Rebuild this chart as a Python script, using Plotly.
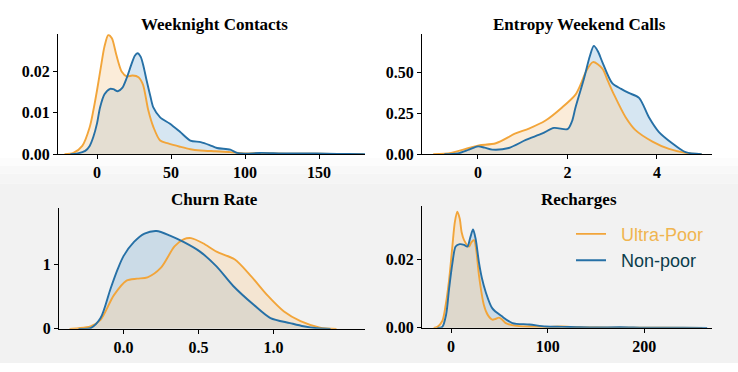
import plotly.graph_objects as go

# ---------------- data ----------------
titles = ["Weeknight Contacts", "Entropy Weekend Calls", "Churn Rate", "Recharges"]
series_names = ["Ultra-Poor", "Non-poor"]

# Weeknight Contacts
wc_poor_x = [-22, -16, -10, -5, -2.5, 0, 3, 5, 7.6, 10, 13, 16.7, 20, 24, 28, 31, 34.6, 38, 42.6, 48, 56, 63, 70, 80, 90, 100, 110, 120, 135, 150, 165, 180]
wc_poor_y = [0, 0.0003, 0.002, 0.0065, 0.0106, 0.0155, 0.022, 0.026, 0.0288, 0.028, 0.024, 0.0199, 0.0188, 0.019, 0.0186, 0.0168, 0.0106, 0.0066, 0.0033, 0.0026, 0.0018, 0.0012, 0.0009, 0.0007, 0.0005, 0.0002, 0.0003, 0.0002, 0.0001, 0.0001, 0.00005, 0]
wc_non_x = [-18, -13, -8, -5, -2.5, 0, 2, 5, 8.8, 11, 14, 17, 20, 23, 25.5, 27.3, 29.5, 31.5, 33.6, 36, 38, 42.6, 49, 56, 63, 70, 76, 81, 90, 94.5, 100, 110, 125, 140, 155, 170, 185]
wc_non_y = [0, 0.0002, 0.0008, 0.002, 0.0042, 0.0075, 0.0113, 0.0145, 0.0158, 0.0157, 0.0152, 0.016, 0.0184, 0.0215, 0.0238, 0.0244, 0.0235, 0.021, 0.0176, 0.014, 0.0113, 0.0089, 0.0074, 0.0054, 0.0033, 0.0029, 0.0022, 0.0015, 0.0011, 0.0003, 0.0001, 0.0003, 0.0002, 0.0002, 0.0001, 0.00005, 0]

# Entropy Weekend Calls
ew_poor_x = [-1.0, -0.6, -0.2, 0.02, 0.4, 0.84, 1.14, 1.51, 1.88, 2.18, 2.3, 2.41, 2.57, 2.78, 2.9, 3.04, 3.3, 3.52, 3.9, 4.27, 4.64, 5.0]
ew_poor_y = [0, 0.008, 0.038, 0.054, 0.067, 0.127, 0.157, 0.206, 0.286, 0.365, 0.43, 0.504, 0.564, 0.524, 0.45, 0.365, 0.226, 0.147, 0.077, 0.032, 0.008, 0]
ew_non_x = [-0.75, -0.45, -0.2, 0.0, 0.15, 0.32, 0.69, 1.07, 1.44, 1.7, 2.0, 2.1, 2.18, 2.37, 2.5, 2.59, 2.68, 2.78, 3.0, 3.2, 3.37, 3.6, 3.82, 4.04, 4.34, 4.64, 5.0]
ew_non_y = [0, 0.005, 0.028, 0.048, 0.04, 0.028, 0.038, 0.087, 0.127, 0.161, 0.153, 0.2, 0.286, 0.464, 0.6, 0.663, 0.63, 0.564, 0.435, 0.40, 0.375, 0.345, 0.226, 0.137, 0.067, 0.012, 0]

# Churn Rate
cr_poor_x = [-0.36, -0.3, -0.22, -0.153, -0.065, 0.02, 0.09, 0.16, 0.25, 0.34, 0.4, 0.45, 0.53, 0.62, 0.74, 0.85, 0.96, 1.07, 1.18, 1.31, 1.42]
cr_poor_y = [0, 0.01, 0.04, 0.14, 0.52, 0.75, 0.78, 0.8, 0.95, 1.28, 1.39, 1.41, 1.33, 1.2, 1.08, 0.82, 0.52, 0.27, 0.12, 0.02, 0]
cr_non_x = [-0.3, -0.22, -0.153, -0.087, -0.04, 0.0, 0.07, 0.14, 0.22, 0.31, 0.4, 0.51, 0.62, 0.73, 0.87, 0.98, 1.11, 1.2, 1.29, 1.38]
cr_non_y = [0, 0.01, 0.167, 0.62, 0.92, 1.13, 1.35, 1.48, 1.52, 1.45, 1.35, 1.2, 0.97, 0.67, 0.37, 0.167, 0.09, 0.04, 0.01, 0]

# Recharges
rc_poor_x = [-18, -14, -9, -5.5, -2, 1.4, 4, 6.5, 9, 11, 13.5, 18.6, 21, 23.8, 26, 29, 34, 38, 42.8, 46, 49.7, 53, 56.7, 63, 70.5, 85, 100, 115, 130, 150, 180, 220, 260]
rc_poor_y = [0, 0.0003, 0.002, 0.0067, 0.014, 0.0238, 0.031, 0.034, 0.032, 0.028, 0.0257, 0.0238, 0.025, 0.0257, 0.023, 0.0152, 0.0067, 0.0038, 0.0024, 0.0026, 0.003, 0.0024, 0.0014, 0.0008, 0.0005, 0.0004, 0.0003, 0.0004, 0.0002, 0.0001, 0.00005, 0.00003, 0]
rc_non_x = [-14, -9, -5, -2, 1.5, 4.8, 9, 13.5, 16.9, 20, 22.8, 25.5, 29, 32, 35.9, 42.8, 53, 63.5, 81, 98, 115, 130, 150, 175, 200, 240, 265]
rc_non_y = [0, 0.0003, 0.004, 0.0114, 0.019, 0.0238, 0.0245, 0.0243, 0.0238, 0.0265, 0.0288, 0.026, 0.019, 0.0145, 0.0105, 0.0057, 0.0033, 0.0014, 0.001, 0.0004, 0.0003, 0.0002, 0.0001, 0.0002, 0.00005, 0.00002, 0]

# tick labels
x_tickvals = [[0, 50, 100, 150], [0, 2, 4], [0.0, 0.5, 1.0], [0, 100, 200]]
x_ticktext = [["0", "50", "100", "150"], ["0", "2", "4"], ["0.0", "0.5", "1.0"], ["0", "100", "200"]]
y_tickvals = [[0, 0.01, 0.02], [0, 0.25, 0.5], [0, 1], [0, 0.02]]
y_ticktext = [["0.00", "0.01", "0.02"], ["0.00", "0.25", "0.50"], ["0", "1"], ["0.00", "0.02"]]

# ---------------- styling ----------------
W, H = 738, 372
ORANGE = "#f2a53a"
BLUE = "#2670a6"
ORANGE_FILL = "rgba(247,212,170,0.45)"
BLUE_FILL = "rgba(50,130,190,0.2)"
SERIF = "Liberation Serif"

panels = [
    dict(px=(58, 365), py=(35, 158), xr=(-26.4, 181), yr=(0, 0.029)),
    dict(px=(422, 712), py=(35, 158), xr=(-1.25, 5.23), yr=(0, 0.735)),
    dict(px=(59, 365), py=(213, 337), xr=(-0.43, 1.61), yr=(0, 1.88)),
    dict(px=(422, 712), py=(211, 336), xr=(-30, 270), yr=(0, 0.0357)),
]
title_pos = [(214, 25), (579, 25), (215, 204), (579, 204)]

data = [
    (wc_poor_x, wc_poor_y, wc_non_x, wc_non_y),
    (ew_poor_x, ew_poor_y, ew_non_x, ew_non_y),
    (cr_poor_x, cr_poor_y, cr_non_x, cr_non_y),
    (rc_poor_x, rc_poor_y, rc_non_x, rc_non_y),
]

fig = go.Figure()
layout = {}
for i, (p, d) in enumerate(zip(panels, data)):
    n = "" if i == 0 else str(i + 1)
    xa, ya = "x" + n, "y" + n
    px, py, pnx, pny = d
    # fills first
    fig.add_trace(go.Scatter(x=pnx, y=pny, xaxis=xa, yaxis=ya, mode="lines", line=dict(width=0, shape="spline", smoothing=0.8),
                             fill="tozeroy", fillcolor=BLUE_FILL, showlegend=False, hoverinfo="skip"))
    fig.add_trace(go.Scatter(x=px, y=py, xaxis=xa, yaxis=ya, mode="lines", line=dict(width=0, shape="spline", smoothing=0.8),
                             fill="tozeroy", fillcolor=ORANGE_FILL, showlegend=False, hoverinfo="skip"))
    # lines
    fig.add_trace(go.Scatter(x=px, y=py, xaxis=xa, yaxis=ya, mode="lines",
                             line=dict(color=ORANGE, width=1.9, shape="spline", smoothing=0.8),
                             name="&nbsp;&nbsp;<span style='color:#f0b550'>" + series_names[0] + "</span>",
                             showlegend=(i == 3)))
    fig.add_trace(go.Scatter(x=pnx, y=pny, xaxis=xa, yaxis=ya, mode="lines",
                             line=dict(color=BLUE, width=1.9, shape="spline", smoothing=0.8),
                             name="&nbsp;&nbsp;<span style='color:#0b3d4c'>" + series_names[1] + "</span>",
                             showlegend=(i == 3)))
    axis_common = dict(showline=True, linecolor="black", linewidth=1, ticks="outside", ticklen=4,
                       tickcolor="black", showgrid=False, zeroline=False,
                       tickfont=dict(family=SERIF, size=16, color="black", weight="bold"))
    layout["xaxis" + n] = dict(domain=[p["px"][0] / W, p["px"][1] / W], range=list(p["xr"]), anchor=ya,
                               tickvals=x_tickvals[i], ticktext=x_ticktext[i], **axis_common)
    layout["yaxis" + n] = dict(domain=[1 - p["py"][1] / H, 1 - p["py"][0] / H], range=list(p["yr"]), anchor=xa,
                               tickvals=y_tickvals[i], ticktext=y_ticktext[i], **axis_common)

annotations = []
for t, (tx, ty) in zip(titles, title_pos):
    annotations.append(dict(text=t, x=tx / W, y=1 - ty / H, xref="paper", yref="paper", showarrow=False,
                            xanchor="center", yanchor="middle",
                            font=dict(family=SERIF, size=17, color="black", weight="bold")))

# background: white top fading to light gray bottom
shapes = []
bands = [(162, 170, "#fcfcfc"), (170, 178, "#f8f8f8"), (178, 188, "#f5f5f5"), (188, 372, "#f2f2f2")]
for y0, y1, c in bands:
    shapes.append(dict(type="rect", xref="paper", yref="paper", x0=0, x1=1, y0=1 - y1 / H, y1=1 - y0 / H,
                       fillcolor=c, line=dict(width=0), layer="below"))

fig.update_layout(
    width=W, height=H, margin=dict(l=0, r=0, t=0, b=0),
    paper_bgcolor="white", plot_bgcolor="rgba(0,0,0,0)",
    annotations=annotations, shapes=shapes,
    legend=dict(x=571 / W, y=1 - 221 / H, xanchor="left", yanchor="top", bgcolor="rgba(0,0,0,0)",
                font=dict(family="Liberation Sans", size=18), itemwidth=30, tracegroupgap=0),
    **layout,
)
fig.write_html("out.html")
